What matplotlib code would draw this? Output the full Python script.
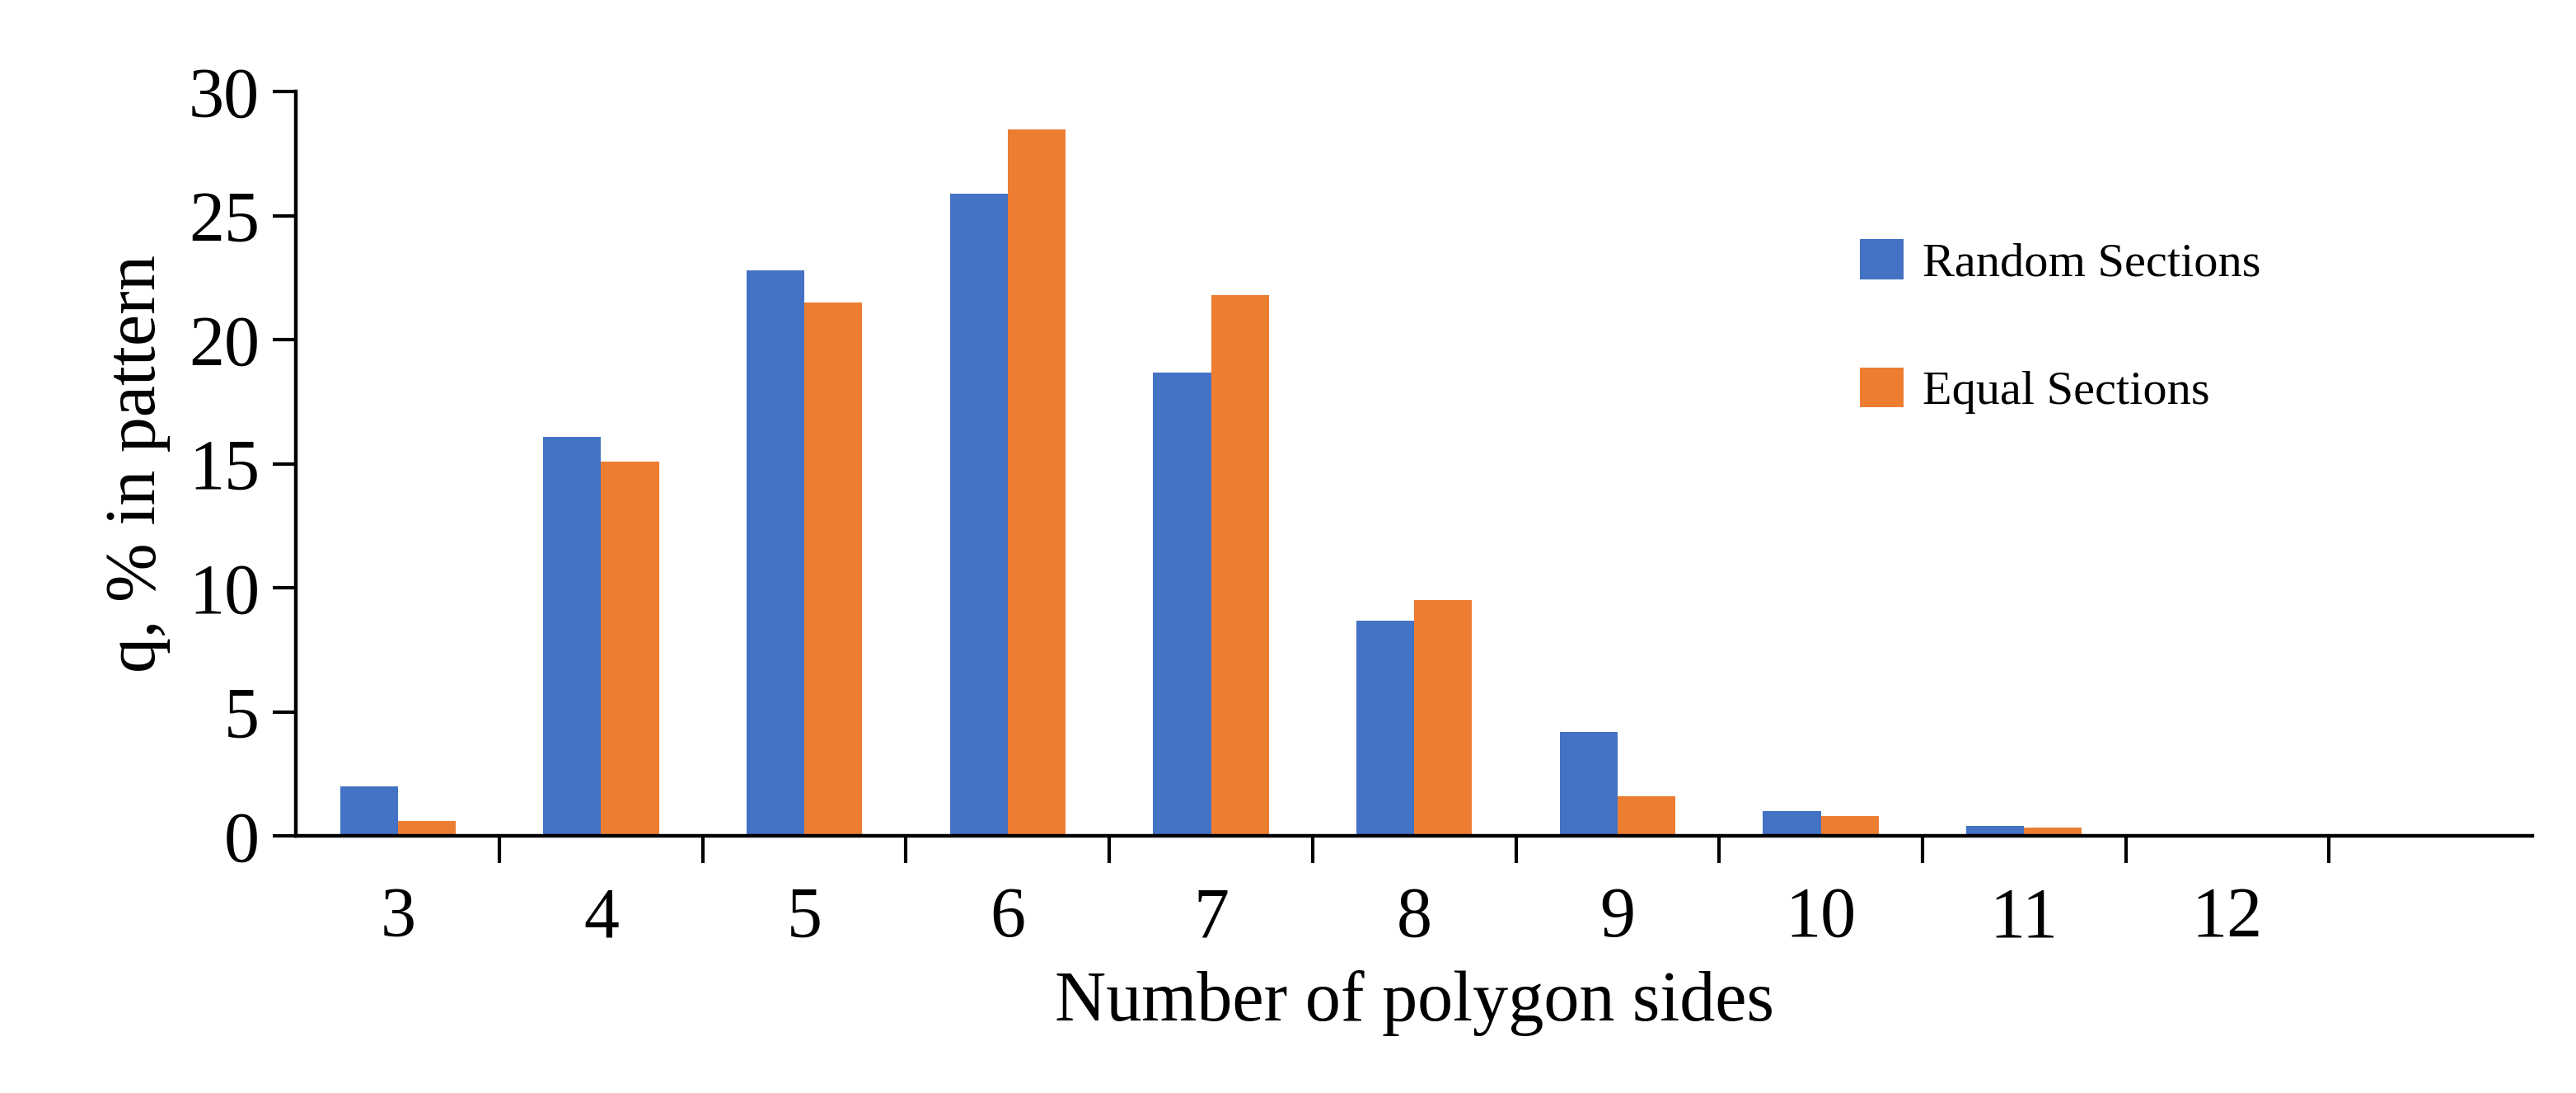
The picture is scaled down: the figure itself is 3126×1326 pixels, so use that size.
import matplotlib
matplotlib.use("Agg")
import matplotlib.pyplot as plt
import numpy as np

categories = ["3", "4", "5", "6", "7", "8", "9", "10", "11", "12", ""]
random_sections = [2.0, 16.1, 22.8, 25.9, 18.7, 8.7, 4.2, 1.0, 0.4, 0, 0]
equal_sections = [0.6, 15.1, 21.5, 28.5, 21.8, 9.5, 1.6, 0.8, 0.35, 0, 0]

plt.rcParams['font.family'] = ['Liberation Serif', 'DejaVu Serif']
fig = plt.figure(figsize=(15.63, 6.63), dpi=200)
ax = fig.add_axes([0.115, 0.235, 0.868, 0.681])
x = np.arange(len(categories))
w = 0.285
ax.bar(x - w/2, random_sections, w, color='#4472C4', label='Random Sections')
ax.bar(x + w/2, equal_sections, w, color='#ED7D31', label='Equal Sections')
ax.set_xlim(-0.5, len(categories) - 0.5)
ax.set_ylim(0, 30)
ax.set_yticks([0, 5, 10, 15, 20, 25, 30])
ax.set_xticks(x)
ax.set_xticklabels(categories)
ax.set_xticks(np.arange(0.5, len(categories) - 0.5, 1), minor=True)
ax.tick_params(axis='x', which='major', length=0, pad=22, labelsize=31)
ax.tick_params(axis='x', which='minor', length=12, width=1.5, direction='out')
ax.tick_params(axis='y', length=10, width=1.5, direction='out', labelsize=31, pad=6)
for s in ['top', 'right']:
    ax.spines[s].set_visible(False)
for s in ['left', 'bottom']:
    ax.spines[s].set_linewidth(1.6)
ax.set_xlabel('Number of polygon sides', fontsize=31, labelpad=8)
ax.set_ylabel('q, % in pattern', fontsize=31, labelpad=8)
ax.legend(loc='upper left', bbox_to_anchor=(0.68, 0.86), frameon=False, fontsize=21,
          labelspacing=1.7, handlelength=0.9, handleheight=0.9, handletextpad=0.4)
fig.savefig('out.png', dpi=200)
